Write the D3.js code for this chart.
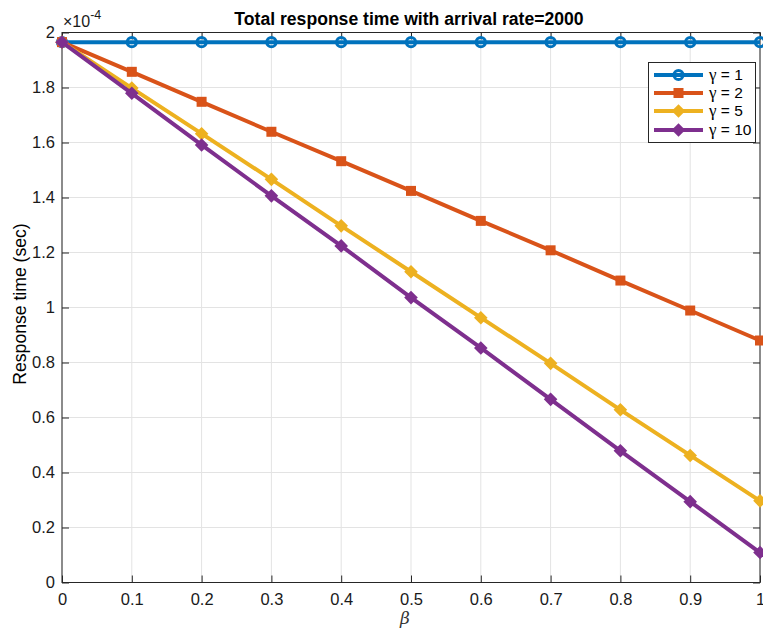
<!DOCTYPE html>
<html>
<head>
<meta charset="utf-8">
<script src="https://cdn.jsdelivr.net/npm/d3@7"></script>
<style>
  html, body { margin: 0; padding: 0; background: #fff; }
  svg { display: block; font-family: "Liberation Sans", Arial, Helvetica, sans-serif; }
</style>
</head>
<body>
<svg id="chart" width="763" height="632"></svg>
<script>
// beta values along the x axis
const betas = [0, 0.1, 0.2, 0.3, 0.4, 0.5, 0.6, 0.7, 0.8, 0.9, 1.0];

// response time in units of 1e-4 sec, one array per gamma
const gamma1  = [1.965, 1.965, 1.965, 1.965, 1.965, 1.965, 1.965, 1.965, 1.965, 1.965, 1.965];
const gamma2  = [1.965, 1.857, 1.748, 1.639, 1.532, 1.424, 1.315, 1.208, 1.098, 0.989, 0.880];
const gamma5  = [1.965, 1.798, 1.632, 1.466, 1.297, 1.130, 0.963, 0.797, 0.628, 0.462, 0.297];
const gamma10 = [1.965, 1.779, 1.591, 1.406, 1.224, 1.036, 0.853, 0.666, 0.479, 0.294, 0.109];

const gammaLabels = ["1", "2", "5", "10"];
const seriesColors = ["#0072BD", "#D95319", "#EDB120", "#7E2F8E"];
const seriesMarkers = ["circle", "square", "diamond", "diamond"];
const seriesValues = [gamma1, gamma2, gamma5, gamma10];

const xTicks = [0, 0.1, 0.2, 0.3, 0.4, 0.5, 0.6, 0.7, 0.8, 0.9, 1];
const yTicks = [0, 0.2, 0.4, 0.6, 0.8, 1, 1.2, 1.4, 1.6, 1.8, 2];

const titleText = "Total response time with arrival rate=2000";
const yLabelText = "Response time (sec)";
const xLabelText = "\u03b2";

const svg = d3.select("#chart");
const box = { left: 62, right: 760, top: 32.5, bottom: 582.5 };

const x = d3.scaleLinear().domain([0, 1]).range([box.left, box.right]);
const y = d3.scaleLinear().domain([0, 2]).range([box.bottom, box.top]);

const axisColor = "#262626";
const tickFont = 16.5;

// grid
const grid = svg.append("g");
grid.selectAll("line.gx").data(xTicks).join("line")
  .attr("x1", d => x(d)).attr("x2", d => x(d))
  .attr("y1", box.top).attr("y2", box.bottom)
  .attr("stroke", "#e3e3e3").attr("stroke-width", 1);
grid.selectAll("line.gy").data(yTicks).join("line")
  .attr("y1", d => y(d)).attr("y2", d => y(d))
  .attr("x1", box.left).attr("x2", box.right)
  .attr("stroke", "#e3e3e3").attr("stroke-width", 1);

// axes (ticks point inward)
function styleAxis(g) {
  g.select(".domain").remove();
  g.selectAll(".tick line").attr("stroke", axisColor);
  g.selectAll(".tick text").attr("fill", "#1a1a1a").attr("font-size", tickFont)
    .attr("font-family", "Liberation Sans, Arial, sans-serif");
}
const fmt = d => (d === 0 ? "0" : String(+d.toFixed(1)));

svg.append("g").attr("transform", `translate(0,${box.bottom})`)
  .call(d3.axisBottom(x).tickValues(xTicks).tickFormat(fmt).tickSize(-7).tickPadding(11))
  .call(styleAxis);
svg.append("g").attr("transform", `translate(0,${box.top})`)
  .call(d3.axisTop(x).tickValues(xTicks).tickFormat("").tickSize(-7))
  .call(styleAxis);
svg.append("g").attr("transform", `translate(${box.left},0)`)
  .call(d3.axisLeft(y).tickValues(yTicks).tickFormat(fmt).tickSize(-7).tickPadding(7))
  .call(styleAxis);
svg.append("g").attr("transform", `translate(${box.right},0)`)
  .call(d3.axisRight(y).tickValues(yTicks).tickFormat("").tickSize(-7))
  .call(styleAxis);

// axes box
svg.append("rect")
  .attr("x", box.left).attr("y", box.top)
  .attr("width", box.right - box.left).attr("height", box.bottom - box.top)
  .attr("fill", "none").attr("stroke", axisColor).attr("stroke-width", 1);

// marker drawing
function drawMarker(g, type, color, cx, cy) {
  if (type === "circle") {
    g.append("circle").attr("cx", cx).attr("cy", cy).attr("r", 4.6)
      .attr("fill", "none").attr("stroke", color).attr("stroke-width", 3);
  } else if (type === "square") {
    g.append("rect").attr("x", cx - 5).attr("y", cy - 5).attr("width", 10).attr("height", 10)
      .attr("fill", color);
  } else {
    const h = 6.8;
    g.append("path")
      .attr("d", `M${cx},${cy - h}L${cx + h},${cy}L${cx},${cy + h}L${cx - h},${cy}Z`)
      .attr("fill", color);
  }
}

// series
const line = d3.line().x(d => x(d[0])).y(d => y(d[1]));
seriesValues.forEach((vals, i) => {
  const pts = betas.map((b, j) => [b, vals[j]]);
  const g = svg.append("g");
  g.append("path").datum(pts).attr("d", line)
    .attr("fill", "none").attr("stroke", seriesColors[i]).attr("stroke-width", 4)
    .attr("stroke-linejoin", "round");
  pts.forEach(p => drawMarker(g, seriesMarkers[i], seriesColors[i], x(p[0]), y(p[1])));
});

// exponent label
const expo = svg.append("text").attr("x", 63).attr("y", 27)
  .attr("font-size", 16).attr("fill", "#1a1a1a");
expo.append("tspan").text("\u00d710");
expo.append("tspan").attr("dy", -8).attr("font-size", 12.5).text("-4");

// title
svg.append("text").attr("x", 409).attr("y", 25)
  .attr("text-anchor", "middle").attr("font-size", 17.6).attr("font-weight", "bold")
  .attr("fill", "#000").text(titleText);

// axis labels
svg.append("text")
  .attr("transform", `translate(25.5,304) rotate(-90)`)
  .attr("text-anchor", "middle").attr("font-size", 17.6).attr("fill", "#000")
  .text(yLabelText);
svg.append("text").attr("x", 405).attr("y", 624)
  .attr("text-anchor", "middle").attr("font-size", 17).attr("font-style", "italic")
  .attr("font-family", "DejaVu Serif, serif").attr("fill", "#333").text(xLabelText);

// legend
const leg = svg.append("g");
leg.append("rect").attr("x", 648.5).attr("y", 62.5).attr("width", 107).attr("height", 80)
  .attr("fill", "#fff").attr("stroke", axisColor).attr("stroke-width", 1);
const rowY = [75, 93, 111, 130];
gammaLabels.forEach((g, i) => {
  leg.append("line").attr("x1", 654).attr("x2", 703).attr("y1", rowY[i]).attr("y2", rowY[i])
    .attr("stroke", seriesColors[i]).attr("stroke-width", 4);
  drawMarker(leg, seriesMarkers[i], seriesColors[i], 678.5, rowY[i]);
  const t = leg.append("text").attr("x", 709).attr("y", rowY[i] + 5)
    .attr("font-size", 15.5).attr("fill", "#000");
  t.append("tspan").attr("font-family", "Liberation Serif, serif").attr("font-size", 17).text("\u03b3");
  t.append("tspan").text(" = " + g);
});
</script>
</body>
</html>
